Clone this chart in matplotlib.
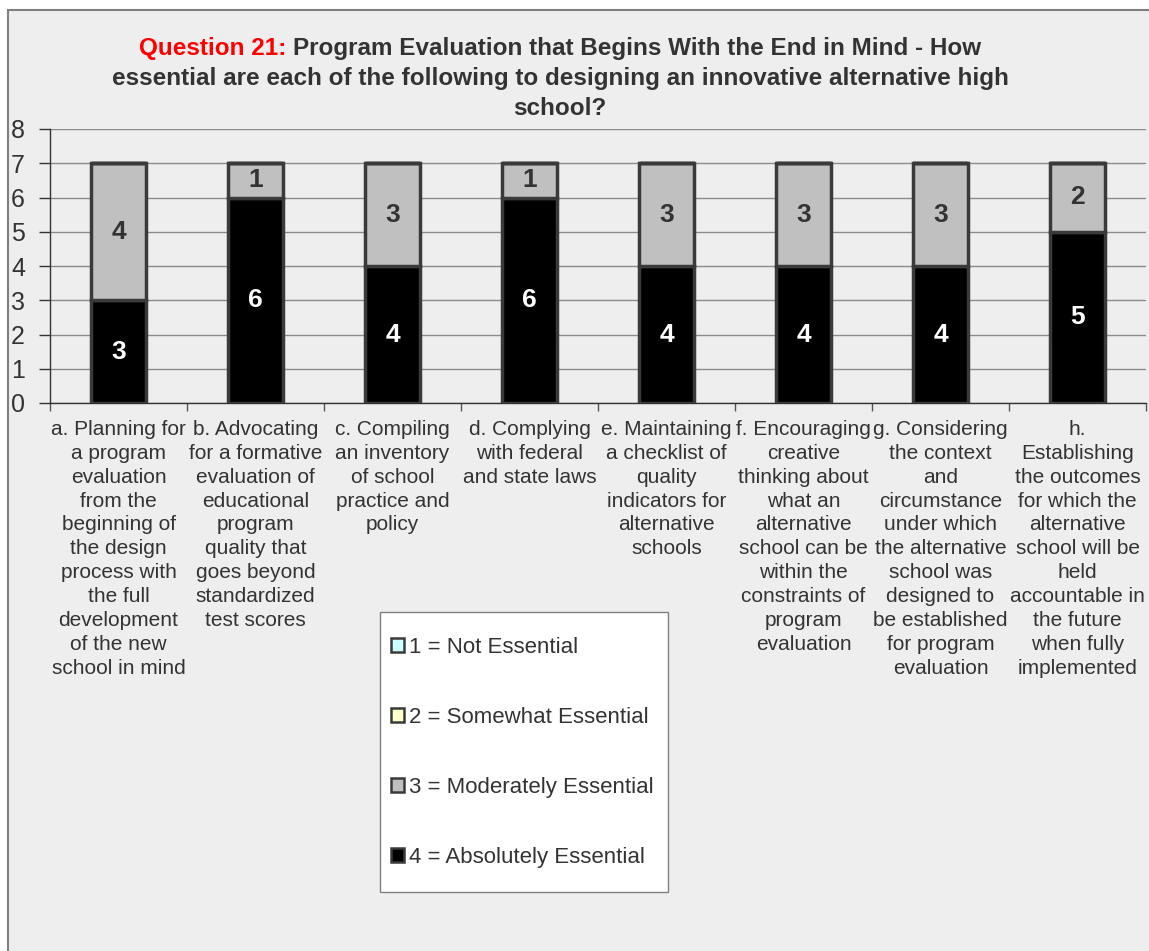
import matplotlib
matplotlib.use("Agg")
import matplotlib.pyplot as plt
from matplotlib.patches import Rectangle
import numpy as np

plt.rcParams['font.family'] = ['Liberation Sans', 'DejaVu Sans']

# ---- data ----
categories = [
    "a. Planning for\na program\nevaluation\nfrom the\nbeginning of\nthe design\nprocess with\nthe full\ndevelopment\nof the new\nschool in mind",
    "b. Advocating\nfor a formative\nevaluation of\neducational\nprogram\nquality that\ngoes beyond\nstandardized\ntest scores",
    "c. Compiling\nan inventory\nof school\npractice and\npolicy",
    "d. Complying\nwith federal\nand state laws",
    "e. Maintaining\na checklist of\nquality\nindicators for\nalternative\nschools",
    "f. Encouraging\ncreative\nthinking about\nwhat an\nalternative\nschool can be\nwithin the\nconstraints of\nprogram\nevaluation",
    "g. Considering\nthe context\nand\ncircumstance\nunder which\nthe alternative\nschool was\ndesigned to\nbe established\nfor program\nevaluation",
    "h.\nEstablishing\nthe outcomes\nfor which the\nalternative\nschool will be\nheld\naccountable in\nthe future\nwhen fully\nimplemented",
]
not_essential = [0, 0, 0, 0, 0, 0, 0, 0]
somewhat_essential = [0, 0, 0, 0, 0, 0, 0, 0]
moderately_essential = [4, 1, 3, 1, 3, 3, 3, 2]
absolutely_essential = [3, 6, 4, 6, 4, 4, 4, 5]
series_labels = ["1 = Not Essential", "2 = Somewhat Essential",
                 "3 = Moderately Essential", "4 = Absolutely Essential"]
y_ticks = [0, 1, 2, 3, 4, 5, 6, 7, 8]
title_lead = "Question 21:"
title_lines = ["Program Evaluation that Begins With the End in Mind - How",
               "essential are each of the following to designing an innovative alternative high",
               "school?"]

# ---- figure ----
W, H = 1149, 951
fig = plt.figure(figsize=(W / 100, H / 100), dpi=100, facecolor='white')

# chart area panel
fig.patches.append(Rectangle((8 / W, -0.05), 1.2, 1 - 10 / H + 0.05,
                             transform=fig.transFigure, facecolor='#EEEEEE',
                             edgecolor='#808080', lw=1.5, zorder=-2))

ax = fig.add_axes([50 / W, (H - 403) / H, (1146 - 50) / W, (403 - 129) / H])
ax.patch.set_visible(False)
ax.set_zorder(1)

x = np.arange(len(categories))
width = 0.4
edge = '#3a3a3a'
abs_v = np.array(absolutely_essential)
mod_v = np.array(moderately_essential)
som_v = np.array(somewhat_essential)
not_v = np.array(not_essential)

b4 = ax.bar(x, abs_v, width, color='#000000', edgecolor=edge, lw=2.5, zorder=3,
            label=series_labels[3])
b3 = ax.bar(x, mod_v, width, bottom=abs_v, color='#C0C0C0', edgecolor=edge, lw=2.5,
            zorder=3, label=series_labels[2])
b2 = ax.bar(x, som_v, width, bottom=abs_v + mod_v, color='#FFFFCC', edgecolor=edge,
            lw=2.5, zorder=3, label=series_labels[1])
b1 = ax.bar(x, not_v, width, bottom=abs_v + mod_v + som_v, color='#CCFFFF',
            edgecolor=edge, lw=2.5, zorder=3, label=series_labels[0])

# value labels centred in each segment
for xi, a, m in zip(x, abs_v, mod_v):
    if a > 0:
        ax.text(xi, a / 2, str(a), ha='center', va='center', color='white',
                fontsize=19, fontweight='bold', zorder=5)
    if m > 0:
        ax.text(xi, a + m / 2, str(m), ha='center', va='center', color='#333333',
                fontsize=19, fontweight='bold', zorder=5)

ax.set_xlim(-0.5, len(categories) - 0.5)
ax.set_ylim(0, 8)
ax.set_yticks(y_ticks)
ax.set_yticklabels([str(v) for v in y_ticks], fontsize=18, color='#333333')
ax.tick_params(axis='y', length=8, width=1, color='#333333', pad=10)

ax.set_xticks(x)
ax.set_xticklabels(categories, fontsize=15, color='#333333', linespacing=1.33)
ax.tick_params(axis='x', which='major', length=0, pad=12)
ax.set_xticks(np.arange(-0.5, len(categories), 1), minor=True)
ax.tick_params(axis='x', which='minor', length=6, width=1, color='#555555')

ax.yaxis.grid(True, color='#8c8c8c', lw=1, zorder=0)
ax.set_axisbelow(True)
for s in ('top', 'right'):
    ax.spines[s].set_visible(False)
for s in ('left', 'bottom'):
    ax.spines[s].set_color('#333333')
    ax.spines[s].set_linewidth(1)

# legend box
fig.patches.append(Rectangle((380 / W, 1 - 892 / H), (668 - 380) / W, (892 - 612) / H,
                             transform=fig.transFigure, facecolor='white',
                             edgecolor='#808080', lw=1, zorder=2))
leg = fig.legend(handles=[b1, b2, b3, b4], labels=series_labels,
                 loc='upper left', bbox_to_anchor=(391 / W, 1 - 637 / H),
                 bbox_transform=fig.transFigure, frameon=False, fontsize=16,
                 labelspacing=2.2, handlelength=0.6, handleheight=0.6,
                 handletextpad=0.2, borderpad=0, borderaxespad=0)
for t in leg.get_texts():
    t.set_color('#333333')
for h in leg.legend_handles:
    h.set_linewidth(1.8)
leg.set_zorder(3)

# title
fig.canvas.draw()
r = fig.canvas.get_renderer()
tsize = 17.5
kw = dict(fontsize=tsize, fontweight='bold', va='baseline')
cx = 560 / W


def text_w(s):
    t = fig.text(0, 0, s, **kw)
    w = t.get_window_extent(r).width
    t.remove()
    return w


w_lead = text_w(title_lead)
w_rest = text_w(title_lines[0])
w_space = text_w(title_lead + " " + title_lines[0]) - w_lead - w_rest
total = w_lead + w_space + w_rest
x0 = 560 - total / 2
fig.text(x0 / W, 1 - 55 / H, title_lead, color='#FF0000', ha='left', **kw)
fig.text((x0 + w_lead + w_space) / W, 1 - 55 / H, title_lines[0], color='#333333',
         ha='left', **kw)
fig.text(cx, 1 - 85 / H, title_lines[1], color='#333333', ha='center', **kw)
fig.text(cx, 1 - 115 / H, title_lines[2], color='#333333', ha='center', **kw)

fig.savefig('out.png', dpi=100, facecolor='white')
